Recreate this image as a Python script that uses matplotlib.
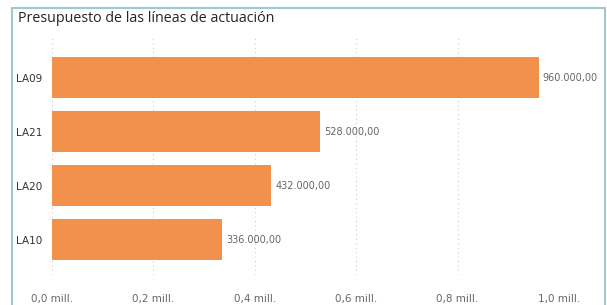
import matplotlib.pyplot as plt
from matplotlib.patches import Rectangle

# data
categories = ['LA09', 'LA21', 'LA20', 'LA10']
values = [960000, 528000, 432000, 336000]
xticks = [0.0, 0.2, 0.4, 0.6, 0.8, 1.0]
xticklabels = ['0,0 mill.', '0,2 mill.', '0,4 mill.', '0,6 mill.', '0,8 mill.', '1,0 mill.']

def fmt(v):
    s = '{:,.2f}'.format(v)
    return s.replace(',', 'X').replace('.', ',').replace('X', '.')

fig = plt.figure(figsize=(6.07, 3.05), dpi=100)
ax = fig.add_axes([52/607, 1-275/305, 507/607, 238/305])

ypos = list(range(len(categories)))
vals = [v / 1e6 for v in values]
ax.barh(ypos, vals, height=0.76, color='#F2914B', zorder=2)

for y, v, raw in zip(ypos, vals, values):
    ax.text(v + 0.008, y, fmt(raw), va='center', ha='left', fontsize=7, color='#666666')

ax.set_xlim(0, 1.0)
ax.set_ylim(3.65, -0.75)
ax.set_yticks(ypos)
ax.set_yticklabels(categories, fontsize=7.5, color='#333333')
ax.set_xticks(xticks)
ax.set_xticklabels(xticklabels, fontsize=7.5, color='#666666')
ax.tick_params(axis='both', length=0)
ax.tick_params(axis='x', pad=14)
ax.tick_params(axis='y', pad=7)
ax.grid(axis='x', color='#cccccc', linestyle=(0, (1, 3)), linewidth=0.8, zorder=0)
for s in ax.spines.values():
    s.set_visible(False)

# outer border
fig.patches.append(Rectangle((12/607, -0.05), 593/607, 1-8/305+0.05, transform=fig.transFigure,
                             fill=False, edgecolor='#9CCBCB', linewidth=1.5))
fig.text(18/607, 1-18/305, 'Presupuesto de las líneas de actuación', fontsize=10.3,
         color='#252423', va='center', ha='left', family='Open Sans')

fig.savefig('out.png', dpi=100)
